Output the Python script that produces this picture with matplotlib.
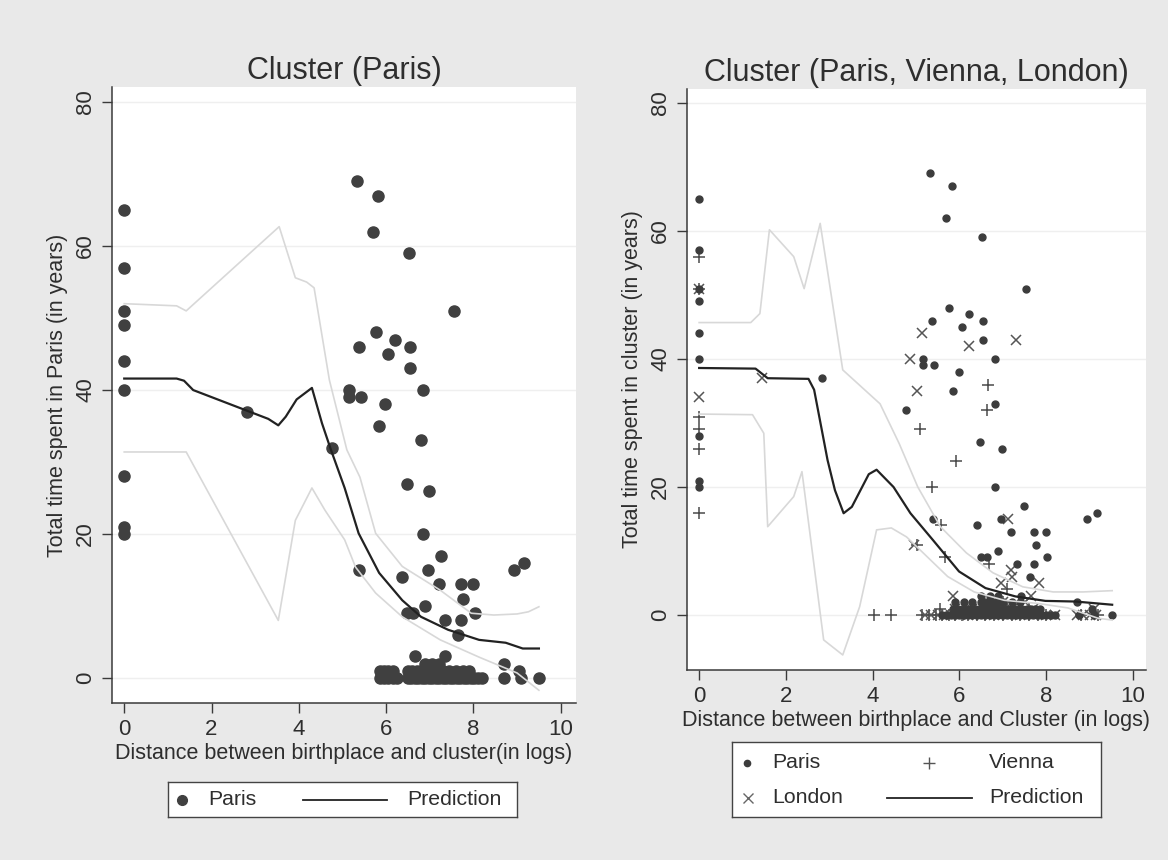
import matplotlib
matplotlib.use("Agg")
import matplotlib.pyplot as plt

plt.rcParams['font.family'] = ['Liberation Sans', 'DejaVu Sans']

# ---------------- left panel: Paris only ----------------
left_paris_x = [0, 0, 0, 0, 0, 0, 0, 0, 0,
                2.82, 5.34, 5.82, 5.70, 6.53, 7.55, 5.76, 5.37, 6.21, 6.05, 6.55, 6.55,
                5.16, 5.16, 5.42, 6.84, 5.97, 5.84, 6.80, 4.77,
                6.48, 6.98, 6.84, 7.26, 5.39, 6.37, 6.97, 7.20, 7.71, 8.00, 8.92, 9.16,
                7.76, 6.90, 6.48, 6.61, 8.03, 7.36, 7.71, 7.65,
                # the stack at zero and just above
                5.85, 5.95, 6.05, 6.15, 6.25, 6.50, 6.58, 6.66, 6.74, 6.82, 6.90, 6.98,
                7.06, 7.14, 7.22, 7.30, 7.38, 7.46, 7.54, 7.62, 7.70, 7.78, 7.86, 7.94,
                8.02, 8.10, 8.20, 8.70, 9.10, 9.50,
                5.85, 5.95, 6.05, 6.15, 6.50, 6.60, 6.70, 6.80, 6.90, 7.00, 7.10, 7.20,
                7.30, 7.45, 7.60, 7.75, 7.90, 9.05,
                6.90, 7.05, 7.20, 8.70, 6.66, 7.35]
left_paris_y = [65, 57, 51, 49, 44, 40, 28, 21, 20,
                37, 69, 67, 62, 59, 51, 48, 46, 47, 45, 46, 43,
                40, 39, 39, 40, 38, 35, 33, 32,
                27, 26, 20, 17, 15, 14, 15, 13, 13, 13, 15, 16,
                11, 10, 9, 9, 9, 8, 8, 6,
                0, 0, 0, 0, 0, 0, 0, 0, 0, 0, 0, 0,
                0, 0, 0, 0, 0, 0, 0, 0, 0, 0, 0, 0,
                0, 0, 0, 0, 0, 0,
                1, 1, 1, 1, 1, 1, 1, 1, 1, 1, 1, 1,
                1, 1, 1, 1, 1, 1,
                2, 2, 2, 2, 3, 3]

left_pred_x = [0, 1.20, 1.37, 1.58, 3.30, 3.53, 3.70, 3.95, 4.30, 4.53, 4.73, 5.05,
               5.37, 5.84, 6.37, 6.80, 7.42, 8.13, 8.74, 9.13, 9.50]
left_pred_y = [41.6, 41.6, 41.3, 40.0, 36.0, 35.1, 36.3, 38.7, 40.3, 35.4, 31.8, 26.4,
               20.1, 14.6, 10.8, 8.5, 6.7, 5.3, 4.9, 4.1, 4.1]
left_hi_x = [0, 1.20, 1.42, 3.55, 3.92, 4.18, 4.35, 4.70, 5.10, 5.40, 5.76, 6.37,
             7.24, 7.95, 8.47, 9.00, 9.26, 9.50]
left_hi_y = [52.0, 51.7, 51.0, 62.7, 55.6, 55.0, 54.2, 41.4, 31.7, 27.9, 20.1, 15.5,
             12.2, 9.0, 8.75, 8.9, 9.2, 9.9]
left_lo_x = [0, 1.42, 3.53, 3.92, 4.30, 4.60, 5.05, 5.30, 5.76, 6.37, 7.24, 8.13, 9.00, 9.50]
left_lo_y = [31.4, 31.4, 8.0, 21.9, 26.4, 23.3, 19.2, 15.4, 11.8, 8.5, 5.3, 2.9, 0.7, -1.7]

# ---------------- right panel: Paris, Vienna, London ----------------
right_paris_x = [0, 0, 0, 0, 0, 0, 0, 0, 0,
                 2.83, 5.32, 5.83, 5.69, 6.51, 7.53, 5.77, 5.37, 6.22, 6.07, 6.54, 6.54,
                 5.16, 5.16, 5.42, 6.81, 5.99, 5.86, 6.81, 4.77, 6.48, 6.97,
                 6.83, 7.49, 8.94, 9.16, 5.39, 6.40, 6.95, 7.19, 7.71, 8.00, 7.77, 8.01,
                 6.90, 6.49, 6.64, 7.33, 7.71, 7.62, 7.42, 8.70, 9.51,
                 5.60, 5.70, 5.80, 5.90, 6.00, 6.10, 6.20, 6.30, 6.40, 6.50, 6.60, 6.70,
                 6.80, 6.90, 7.00, 7.10, 7.20, 7.30, 7.40, 7.50, 7.60, 7.70, 7.80, 7.90,
                 8.00, 8.10, 8.20, 8.75, 9.10,
                 5.85, 5.95, 6.05, 6.15, 6.25, 6.35, 6.45, 6.55, 6.65, 6.75, 6.85, 6.95,
                 7.05, 7.15, 7.25, 7.35, 7.45, 7.55, 7.65, 7.75, 7.85, 9.05,
                 5.90, 6.10, 6.30, 6.50, 6.60, 6.70, 6.80, 6.90, 7.00, 7.20, 7.40,
                 6.50, 6.70, 6.90]
right_paris_y = [65, 57, 51, 49, 44, 40, 28, 21, 20,
                 37, 69, 67, 62, 59, 51, 48, 46, 47, 45, 46, 43,
                 40, 39, 39, 40, 38, 35, 33, 32, 27, 26,
                 20, 17, 15, 16, 15, 14, 15, 13, 13, 13, 11, 9,
                 10, 9, 9, 8, 8, 6, 3, 2, 0,
                 0, 0, 0, 0, 0, 0, 0, 0, 0, 0, 0, 0,
                 0, 0, 0, 0, 0, 0, 0, 0, 0, 0, 0, 0,
                 0, 0, 0, 0, 0,
                 1, 1, 1, 1, 1, 1, 1, 1, 1, 1, 1, 1,
                 1, 1, 1, 1, 1, 1, 1, 1, 1, 1,
                 2, 2, 2, 2, 2, 2, 2, 2, 2, 2, 2,
                 3, 3, 3]

right_vienna_x = [0, 0, 0, 0, 0, 0,
                  6.66, 6.64, 5.08, 5.93, 5.37, 5.58, 5.02, 5.67, 6.68, 7.10,
                  4.04, 4.42, 5.13, 5.30, 5.45, 5.60, 5.75, 5.90, 6.05, 6.20, 6.40,
                  6.60, 6.80, 7.00, 7.20, 7.40, 7.60, 7.80, 8.00, 8.80, 9.20,
                  5.55, 6.10, 6.60, 7.10, 7.60, 6.70, 7.00]
right_vienna_y = [56, 51, 31, 29, 26, 16,
                  36, 32, 29, 24, 20, 14, 11, 9, 8, 4,
                  0, 0, 0, 0, 0, 0, 0, 0, 0, 0, 0,
                  0, 0, 0, 0, 0, 0, 0, 0, 0, 0,
                  1, 1, 1, 1, 1, 2, 2]

right_london_x = [0, 0, 1.45, 5.14, 4.86, 5.01, 6.21, 7.31, 4.95, 7.12, 7.19, 7.20,
                  7.83, 6.96, 7.66, 5.86,
                  5.20, 5.35, 5.50, 5.65, 5.80, 6.00, 6.20, 6.50, 6.80, 7.10, 7.40,
                  7.70, 8.00, 8.20, 8.70, 8.85, 9.00, 9.15,
                  5.90, 6.30, 6.70, 7.20, 7.70, 9.10, 6.60, 7.00, 7.50]
right_london_y = [51, 34, 37, 44, 40, 35, 42, 43, 11, 15, 7, 6,
                  5, 5, 3, 3,
                  0, 0, 0, 0, 0, 0, 0, 0, 0, 0, 0,
                  0, 0, 0, 0, 0, 0, 0,
                  1, 1, 1, 1, 1, 1, 2, 2, 2]

right_pred_x = [0, 1.30, 1.58, 2.52, 2.65, 2.96, 3.13, 3.33, 3.52, 3.91, 4.09, 4.48,
                4.87, 5.39, 5.99, 6.60, 7.29, 7.98, 8.68, 9.52]
right_pred_y = [38.6, 38.5, 37.0, 36.9, 35.2, 24.2, 19.5, 15.9, 16.9, 22.0, 22.7, 20.0,
                15.9, 11.7, 6.8, 4.2, 2.9, 2.2, 2.1, 1.6]
right_hi_x = [0, 1.19, 1.40, 1.62, 2.18, 2.42, 2.79, 3.31, 3.91, 4.17, 4.61, 5.04,
              5.56, 6.16, 6.77, 7.46, 8.16, 8.85, 9.52]
right_hi_y = [45.7, 45.7, 47.1, 60.2, 56.0, 51.0, 61.2, 38.3, 34.6, 33.0, 26.8, 20.0,
              13.8, 9.7, 6.6, 4.4, 3.6, 3.6, 3.8]
right_lo_x = [0, 1.23, 1.40, 1.49, 1.58, 2.18, 2.37, 2.87, 3.31, 3.70, 4.09, 4.43,
              4.78, 5.21, 5.73, 6.34, 7.03, 7.81, 8.50, 9.19, 9.52]
right_lo_y = [31.4, 31.3, 29.4, 28.4, 13.8, 18.5, 22.4, -3.9, -6.25, 1.3, 13.3, 13.6,
              12.2, 9.4, 6.0, 3.6, 2.3, 1.8, 1.1, -0.5, -0.8]

y_ticks = [0, 20, 40, 60, 80]
x_ticks = [0, 2, 4, 6, 8, 10]

DARK = '#3a3a3a'
TEXT = '#2e2e2e'
CI = '#d8d8d8'
W, H = 1168, 860


def px_axes(l, r, t, b):
    return [l / W, (H - b) / H, (r - l) / W, (b - t) / H]


def style(ax, xlim, ylim, title, xlabel, ylabel):
    ax.set_facecolor('white')
    ax.set_xlim(*xlim)
    ax.set_ylim(*ylim)
    ax.set_xticks(x_ticks)
    ax.set_yticks(y_ticks)
    for s in ['top', 'right']:
        ax.spines[s].set_visible(False)
    for s in ['left', 'bottom']:
        ax.spines[s].set_color(DARK)
        ax.spines[s].set_linewidth(1.1)
    ax.tick_params(length=7.5, width=1, color=DARK, labelsize=16, labelcolor=TEXT, pad=4)
    ax.tick_params(axis='y', labelrotation=90)
    for lab in ax.get_yticklabels():
        lab.set_va('center')
    ax.grid(axis='y', color='#efefef', lw=1)
    ax.set_axisbelow(True)
    ax.set_title(title, fontsize=22, color=TEXT, pad=6)
    ax.set_xlabel(xlabel, fontsize=15.5, color=TEXT, labelpad=2)
    ax.set_ylabel(ylabel, fontsize=15.5, color=TEXT, labelpad=5)


fig = plt.figure(figsize=(W / 100, H / 100), dpi=100, facecolor='#e9e9e9')

# left
ax1 = fig.add_axes(px_axes(112, 576, 87, 703))
ax1.plot(left_paris_x, left_paris_y, 'o', ms=8, color='#404040', mec='#404040', zorder=3)
ax1.plot(left_hi_x, left_hi_y, color=CI, lw=1.2, zorder=4)
ax1.plot(left_lo_x, left_lo_y, color=CI, lw=1.2, zorder=4)
ax1.plot(left_pred_x, left_pred_y, color='#222222', lw=1.6, zorder=5)
style(ax1, (-0.28, 10.35), (-3.47, 82.1), 'Cluster (Paris)',
      'Distance between birthplace and cluster(in logs)',
      'Total time spent in Paris (in years)')

# right
ax2 = fig.add_axes(px_axes(687, 1146, 89, 670))
ax2.plot(right_vienna_x, right_vienna_y, '+', ms=9, mew=1.1, color='#4a4a4a', zorder=3)
ax2.plot(right_london_x, right_london_y, 'x', ms=7, mew=1.1, color='#555555', zorder=3)
ax2.plot(right_paris_x, right_paris_y, 'o', ms=5, color='#3c3c3c', mec='#3c3c3c', zorder=3)
ax2.plot(right_hi_x, right_hi_y, color=CI, lw=1.2, zorder=4)
ax2.plot(right_lo_x, right_lo_y, color=CI, lw=1.2, zorder=4)
ax2.plot(right_pred_x, right_pred_y, color='#222222', lw=1.6, zorder=5)
style(ax2, (-0.28, 10.3), (-8.6, 82.2), 'Cluster (Paris, Vienna, London)',
      'Distance between birthplace and Cluster (in logs)',
      'Total time spent in cluster (in years)')


# legends drawn as small framed boxes
def legend_box(l, r, t, b):
    lg = fig.add_axes(px_axes(l, r, t, b))
    lg.set_xlim(0, r - l)
    lg.set_ylim(0, 1)
    lg.set_xticks([])
    lg.set_yticks([])
    lg.set_facecolor('white')
    for s in lg.spines.values():
        s.set_color('#444444')
        s.set_linewidth(1)
    return lg


lg1 = legend_box(168, 517, 782, 817)
lg1.plot([14], [0.5], 'o', ms=7, color='#404040')
lg1.text(40, 0.5, 'Paris', fontsize=15.3, color=TEXT, va='center')
lg1.plot([135, 219], [0.5, 0.5], color='#222222', lw=1.3)
lg1.text(239, 0.5, 'Prediction', fontsize=15.3, color=TEXT, va='center')

lg2 = legend_box(732, 1101, 742, 817)
lg2.plot([15], [0.72], 'o', ms=4.5, color='#3c3c3c')
lg2.text(40, 0.72, 'Paris', fontsize=15.3, color=TEXT, va='center')
lg2.plot([197], [0.72], '+', ms=9, mew=1, color='#555555')
lg2.text(257, 0.72, 'Vienna', fontsize=15.3, color=TEXT, va='center')
lg2.plot([16], [0.26], 'x', ms=6.5, mew=1, color='#666666')
lg2.text(40, 0.26, 'London', fontsize=15.3, color=TEXT, va='center')
lg2.plot([155, 240], [0.26, 0.26], color='#222222', lw=1.3)
lg2.text(257, 0.26, 'Prediction', fontsize=15.3, color=TEXT, va='center')

fig.savefig('out.png', dpi=100, facecolor=fig.get_facecolor())
